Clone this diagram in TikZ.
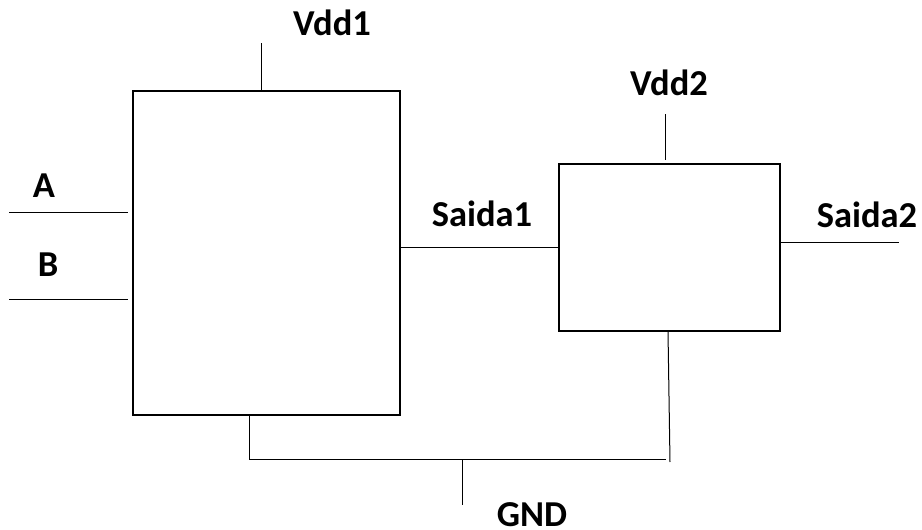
\documentclass[tikz,border=0pt]{standalone}
\usepackage{fontspec}
\setmainfont{Carlito}
\begin{document}
\begin{tikzpicture} [
   x=1pt, y=-1pt, line width=1pt,
   blk/.style={draw, line width=1.4pt, inner sep=0pt, outer sep=0pt},
   lbl/.style={font=\fontsize{36.5}{44}\selectfont\bfseries, anchor=base, inner sep=0pt}
]
   \useasboundingbox (0,0) rectangle (922,530);
   \node (B1) [blk, minimum width=267pt, minimum height=324pt] at (266.5,253) {};
   \node (B2) [blk, minimum width=221pt, minimum height=167pt] at (669.5,247.5) {};
   \coordinate (vdd1) at (261,43);
   \coordinate (a) at (9,212);
   \coordinate (b) at (9,299);
   \coordinate (s1) at (400,247);
   \coordinate (s2) at (899,242);
   \coordinate (vdd2) at (665,114);
   \coordinate (g1) at (249,459);
   \coordinate (g3) at (666,459);
   \coordinate (g2) at (670,462);
   \coordinate (gnd) at (462,505);
   \draw (vdd1) -- (vdd1 |- B1.north);
   \draw (a) -- ([xshift=-5pt]a -| B1.west);
   \draw (b) -- ([xshift=-5pt]b -| B1.west);
   \draw (s1) -- (s1 -| B2.west);
   \draw (B2.east |- s2) -- (s2);
   \draw (vdd2) -- ([yshift=4pt]vdd2 |- B2.north);
   \draw (g1 |- B1.south) -- (g1) -- (g3);
   \draw ([xshift=-2pt]g2 |- B2.south) -- (g2);
   \draw (gnd |- g1) -- (gnd);
   \node (Lvdd1) [lbl] at (332,35) {Vdd1};
   \node (La) [lbl] at (44,197) {A};
   \node (Lb) [lbl] at (48,276) {B};
   \node (Ls1) [lbl] at (482,226) {Saida1};
   \node (Lvdd2) [lbl] at (669,95) {Vdd2};
   \node (Ls2) [lbl] at (867,227) {Saida2};
   \node (Lgnd) [lbl] at (532,526) {GND};
\end{tikzpicture}
\end{document}
